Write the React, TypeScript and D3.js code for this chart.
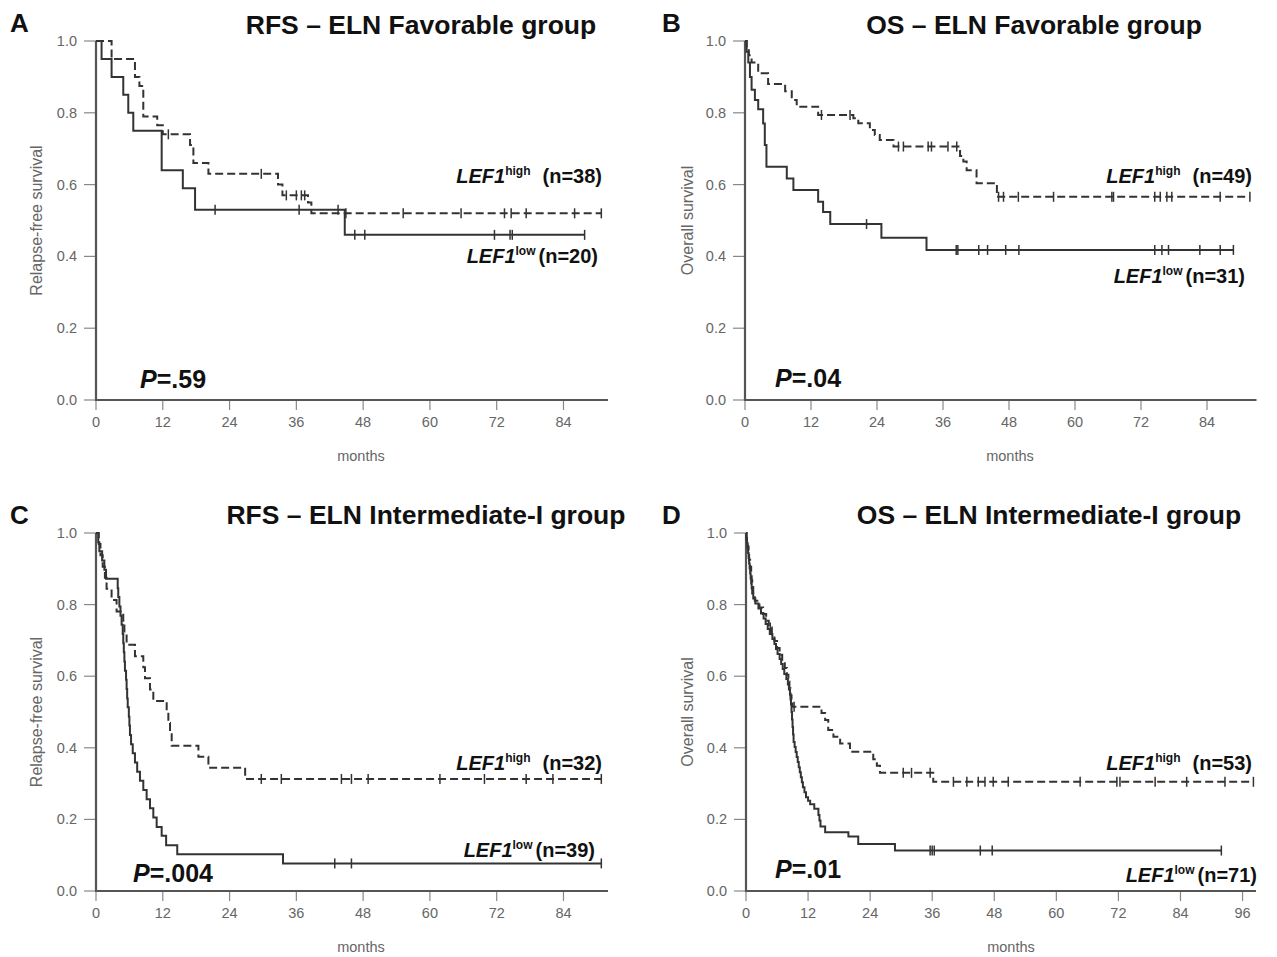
import React from 'react';
import * as d3 from 'd3';

type Ev = [number, number];

const monthTicks = [0, 12, 24, 36, 48, 60, 72, 84];
const monthTicksD = [0, 12, 24, 36, 48, 60, 72, 84, 96];
const survTicks = [0, 0.2, 0.4, 0.6, 0.8, 1.0];

// ---- Panel A: RFS favorable ----
const aHighEvents: Ev[] = [[2.8, 0.95], [7.0, 0.90], [7.8, 0.875], [8.5, 0.79], [11.0, 0.765], [12.0, 0.74], [16.9, 0.71], [17.5, 0.66], [20.2, 0.63], [32.7, 0.60], [33.5, 0.57], [38.1, 0.55], [38.7, 0.52]];
const aHighCensor = [13.0, 29.7, 34.2, 36.0, 36.9, 37.5, 44.9, 55.2, 65.6, 73.4, 74.6, 77.3, 86.0, 90.8];
const aLowEvents: Ev[] = [[1.0, 0.95], [2.8, 0.90], [4.9, 0.85], [5.8, 0.80], [6.7, 0.75], [11.8, 0.64], [15.6, 0.59], [17.8, 0.53], [44.7, 0.46]];
const aLowCensor = [21.4, 36.5, 43.5, 46.5, 48.3, 71.6, 74.4, 74.8, 87.8];

// ---- Panel B: OS favorable ----
const bHighEvents: Ev[] = [[0.3, 0.98], [0.7, 0.96], [1.2, 0.94], [2.4, 0.91], [4.2, 0.88], [7.3, 0.86], [8.5, 0.836], [9.4, 0.817], [13.3, 0.794], [19.7, 0.785], [20.6, 0.771], [22.7, 0.752], [23.6, 0.738], [24.5, 0.724], [27.0, 0.706], [39.1, 0.68], [39.7, 0.664], [40.3, 0.64], [42.1, 0.604], [45.8, 0.566]];
const bHighCensor = [13.9, 19.1, 27.9, 28.8, 33.3, 33.9, 36.9, 38.5, 46.1, 47.0, 49.7, 56.1, 66.7, 67.0, 74.5, 75.5, 76.7, 77.6, 86.4, 91.8];
const bLowEvents: Ev[] = [[0.3, 0.97], [0.6, 0.94], [0.9, 0.90], [1.2, 0.864], [1.8, 0.836], [2.4, 0.81], [3.3, 0.77], [3.6, 0.71], [3.9, 0.65], [7.6, 0.617], [8.8, 0.585], [13.3, 0.552], [14.2, 0.524], [15.5, 0.49], [24.8, 0.452], [33.0, 0.418]];
const bLowCensor = [22.1, 38.4, 38.7, 42.5, 44.1, 47.4, 49.8, 74.5, 75.8, 77.0, 82.7, 86.4, 88.8];

// ---- Panel C: RFS intermediate-I ----
const cHighEvents: Ev[] = [[0.5, 0.969], [0.8, 0.938], [1.2, 0.906], [1.6, 0.875], [1.9, 0.844], [2.8, 0.813], [3.7, 0.781], [4.9, 0.75], [5.1, 0.719], [5.5, 0.688], [7.0, 0.656], [8.5, 0.625], [8.8, 0.594], [9.7, 0.563], [10.3, 0.531], [12.7, 0.50], [13.0, 0.469], [13.3, 0.438], [13.6, 0.406], [18.4, 0.375], [20.2, 0.344], [26.8, 0.313]];
const cHighCensor = [29.7, 33.3, 44.1, 45.9, 48.9, 61.8, 69.8, 77.3, 82.1, 90.8];
const cLowEvents: Ev[] = [[0.4, 0.974], [0.6, 0.949], [1.1, 0.923], [1.5, 0.897], [1.8, 0.872], [3.9, 0.846], [4.0, 0.821], [4.2, 0.795], [4.4, 0.769], [4.6, 0.744], [4.8, 0.718], [4.9, 0.692], [5.0, 0.667], [5.1, 0.641], [5.2, 0.615], [5.4, 0.590], [5.5, 0.564], [5.6, 0.538], [5.7, 0.513], [5.9, 0.487], [6.0, 0.462], [6.1, 0.436], [6.3, 0.410], [6.6, 0.385], [7.0, 0.359], [7.4, 0.333], [7.9, 0.308], [8.5, 0.282], [9.1, 0.256], [9.7, 0.231], [10.3, 0.205], [10.9, 0.179], [11.8, 0.154], [12.6, 0.128], [14.6, 0.103], [33.6, 0.077]];
const cLowCensor = [42.9, 45.9, 90.8];

// ---- Panel D: OS intermediate-I ----
const dHighEvents: Ev[] = [[0.1, 0.981], [0.3, 0.962], [0.5, 0.943], [0.6, 0.925], [0.8, 0.906], [1.0, 0.887], [1.1, 0.868], [1.2, 0.849], [1.4, 0.830], [1.7, 0.811], [2.6, 0.792], [3.3, 0.774], [3.9, 0.755], [4.4, 0.736], [5.0, 0.717], [5.5, 0.698], [6.0, 0.679], [6.5, 0.660], [7.0, 0.641], [7.5, 0.623], [7.9, 0.604], [8.2, 0.585], [8.4, 0.566], [8.6, 0.547], [8.8, 0.528], [9.0, 0.515], [14.6, 0.497], [15.3, 0.478], [15.9, 0.45], [16.9, 0.431], [18.2, 0.412], [20.1, 0.389], [24.6, 0.368], [25.3, 0.35], [25.9, 0.33], [36.2, 0.305]];
const dHighCensor = [4.7, 9.3, 30.4, 32.0, 35.6, 40.1, 42.7, 44.9, 46.2, 47.8, 50.7, 64.6, 71.7, 72.3, 79.1, 85.2, 92.6, 98.1];
const dLowEvents: Ev[] = [[0.1, 0.986], [0.2, 0.972], [0.3, 0.958], [0.4, 0.944], [0.5, 0.930], [0.6, 0.915], [0.7, 0.901], [0.8, 0.887], [0.9, 0.873], [1.0, 0.859], [1.1, 0.845], [1.2, 0.831], [1.4, 0.817], [1.8, 0.803], [2.4, 0.789], [2.9, 0.775], [3.4, 0.761], [3.8, 0.746], [4.2, 0.732], [4.6, 0.718], [5.1, 0.704], [5.5, 0.690], [5.8, 0.676], [6.1, 0.662], [6.5, 0.648], [6.8, 0.634], [7.1, 0.620], [7.4, 0.606], [7.8, 0.592], [8.1, 0.577], [8.3, 0.563], [8.5, 0.549], [8.6, 0.535], [8.7, 0.521], [8.8, 0.500], [8.9, 0.479], [9.0, 0.458], [9.1, 0.437], [9.2, 0.416], [9.4, 0.402], [9.6, 0.388], [9.8, 0.374], [10.0, 0.360], [10.2, 0.346], [10.4, 0.332], [10.6, 0.318], [10.8, 0.304], [11.0, 0.290], [11.3, 0.276], [11.6, 0.262], [12.0, 0.252], [12.4, 0.242], [13.2, 0.230], [14.0, 0.212], [14.2, 0.197], [14.4, 0.180], [15.3, 0.164], [19.8, 0.152], [21.7, 0.131], [28.8, 0.113]];
const dLowCensor = [35.6, 36.0, 36.4, 45.3, 47.6, 91.9];

const FONT = '"Liberation Sans", Arial, Helvetica, sans-serif';
const INK = '#333';
const AXIS = '#555';
const GRAY = '#666';

type Scale = d3.ScaleLinear<number, number>;

function Curve({ events, censor, x, y, dashed }: { events: Ev[]; censor: number[]; x: Scale; y: Scale; dashed: boolean }) {
  const last = events[events.length - 1];
  const end = Math.max(last[0], ...censor);
  const pts: Ev[] = [[0, 1], ...events, [end, last[1]]];
  const line = d3.line<Ev>().x(d => x(d[0])).y(d => y(d[1])).curve(d3.curveStepAfter);
  const survAt = (t: number) => {
    let s = 1;
    for (const [et, es] of events) if (et <= t) s = es;
    return s;
  };
  return (
    <g>
      <path d={line(pts) || ''} fill="none" stroke={INK} strokeWidth={2} strokeDasharray={dashed ? '8,4' : undefined} />
      {censor.map((t, i) => {
        const cy = y(survAt(t));
        return <line key={i} x1={x(t)} x2={x(t)} y1={cy - 5} y2={cy + 5} stroke={INK} strokeWidth={1.5} />;
      })}
    </g>
  );
}

type Legend = { sup: string; n: string; x: number; y: number; gap: number };

type PanelProps = {
  letter: string; letterX: number; letterY: number;
  title: string; titleX: number; titleY: number;
  yLabel: string; yLabelX: number;
  xMax: number; xRange: [number, number]; yRange: [number, number];
  ticks: number[];
  high: { events: Ev[]; censor: number[] };
  low: { events: Ev[]; censor: number[] };
  legHigh: Legend; legLow: Legend;
  pText: string; pX: number; pY: number;
};

function LegendText({ l }: { l: Legend }) {
  return (
    <text x={l.x} y={l.y} textAnchor="end" fontFamily={FONT} fontWeight="bold" fontSize={20} fill="#111">
      <tspan fontStyle="italic">LEF1</tspan>
      <tspan fontSize={12} dy={-8}>{l.sup}</tspan>
      <tspan dy={8} dx={l.gap}>{l.n}</tspan>
    </text>
  );
}

function Panel(p: PanelProps) {
  const x = d3.scaleLinear().domain([0, p.xMax]).range(p.xRange);
  const y = d3.scaleLinear().domain([0, 1]).range(p.yRange);
  const x0 = p.xRange[0];
  const yb = p.yRange[0];
  const yt = p.yRange[1];
  const fmt = d3.format('.1f');
  return (
    <g>
      <text x={p.letterX} y={p.letterY} fontFamily={FONT} fontWeight="bold" fontSize={26} fill="#111">{p.letter}</text>
      <text x={p.titleX} y={p.titleY} textAnchor="middle" fontFamily={FONT} fontWeight="bold" fontSize={26.5} fill="#111">{p.title}</text>
      {survTicks.map(t => (
        <g key={'y' + t}>
          <line x1={x0 - 12} x2={x0} y1={y(t)} y2={y(t)} stroke="#888" strokeWidth={1.2} />
          <text x={x0 - 19} y={y(t) + 5} textAnchor="end" fontFamily={FONT} fontSize={14.5} fill={GRAY}>{fmt(t)}</text>
        </g>
      ))}
      {p.ticks.map(t => (
        <g key={'x' + t}>
          <line x1={x(t)} x2={x(t)} y1={yb} y2={yb + 10} stroke="#888" strokeWidth={1.2} />
          <text x={x(t)} y={yb + 27} textAnchor="middle" fontFamily={FONT} fontSize={14.5} fill={GRAY}>{t}</text>
        </g>
      ))}
      <path d={`M${x0},${yt}V${yb}H${p.xRange[1]}`} fill="none" stroke={AXIS} strokeWidth={2.2} />
      <text x={x0 + 265} y={yb + 61} textAnchor="middle" fontFamily={FONT} fontSize={14.5} fill={GRAY}>months</text>
      <text transform={`translate(${p.yLabelX},${(yb + yt) / 2}) rotate(-90)`} textAnchor="middle" fontFamily={FONT} fontSize={16} fill={GRAY}>{p.yLabel}</text>
      <Curve events={p.high.events} censor={p.high.censor} x={x} y={y} dashed={true} />
      <Curve events={p.low.events} censor={p.low.censor} x={x} y={y} dashed={false} />
      <LegendText l={p.legHigh} />
      <LegendText l={p.legLow} />
      <text x={p.pX} y={p.pY} fontFamily={FONT} fontWeight="bold" fontSize={25} fill="#111">
        <tspan fontStyle="italic">P</tspan>{p.pText}
      </text>
    </g>
  );
}

export default function App() {
  return (
    <svg width={1277} height={957} style={{ position: 'absolute', left: 0, top: 0, background: '#fff' }}>
      <rect width={1277} height={957} fill="#fff" />
      <Panel letter="A" letterX={10} letterY={32} title="RFS – ELN Favorable group" titleX={421} titleY={34}
        yLabel="Relapse-free survival" yLabelX={42}
        xMax={92} xRange={[96, 608]} yRange={[400, 41]} ticks={monthTicks}
        high={{ events: aHighEvents, censor: aHighCensor }} low={{ events: aLowEvents, censor: aLowCensor }}
        legHigh={{ sup: 'high', n: '(n=38)', x: 602, y: 183, gap: 12 }}
        legLow={{ sup: 'low', n: '(n=20)', x: 598, y: 263, gap: 3 }}
        pText="=.59" pX={140} pY={388} />
      <Panel letter="B" letterX={662} letterY={32} title="OS – ELN Favorable group" titleX={1034} titleY={34}
        yLabel="Overall survival" yLabelX={693}
        xMax={93} xRange={[745, 1256.5]} yRange={[400, 41]} ticks={monthTicks}
        high={{ events: bHighEvents, censor: bHighCensor }} low={{ events: bLowEvents, censor: bLowCensor }}
        legHigh={{ sup: 'high', n: '(n=49)', x: 1252, y: 183, gap: 12 }}
        legLow={{ sup: 'low', n: '(n=31)', x: 1245, y: 283, gap: 3 }}
        pText="=.04" pX={775} pY={387} />
      <Panel letter="C" letterX={10} letterY={524} title="RFS – ELN Intermediate-I group" titleX={426} titleY={524}
        yLabel="Relapse-free survival" yLabelX={42}
        xMax={92} xRange={[96, 608]} yRange={[891, 533]} ticks={monthTicks}
        high={{ events: cHighEvents, censor: cHighCensor }} low={{ events: cLowEvents, censor: cLowCensor }}
        legHigh={{ sup: 'high', n: '(n=32)', x: 602, y: 770, gap: 12 }}
        legLow={{ sup: 'low', n: '(n=39)', x: 595, y: 857, gap: 3 }}
        pText="=.004" pX={133} pY={882} />
      <Panel letter="D" letterX={662} letterY={524} title="OS – ELN Intermediate-I group" titleX={1049} titleY={524}
        yLabel="Overall survival" yLabelX={693}
        xMax={98.6} xRange={[746, 1256]} yRange={[891, 533]} ticks={monthTicksD}
        high={{ events: dHighEvents, censor: dHighCensor }} low={{ events: dLowEvents, censor: dLowCensor }}
        legHigh={{ sup: 'high', n: '(n=53)', x: 1252, y: 770, gap: 12 }}
        legLow={{ sup: 'low', n: '(n=71)', x: 1257, y: 882, gap: 3 }}
        pText="=.01" pX={775} pY={878} />
    </svg>
  );
}
